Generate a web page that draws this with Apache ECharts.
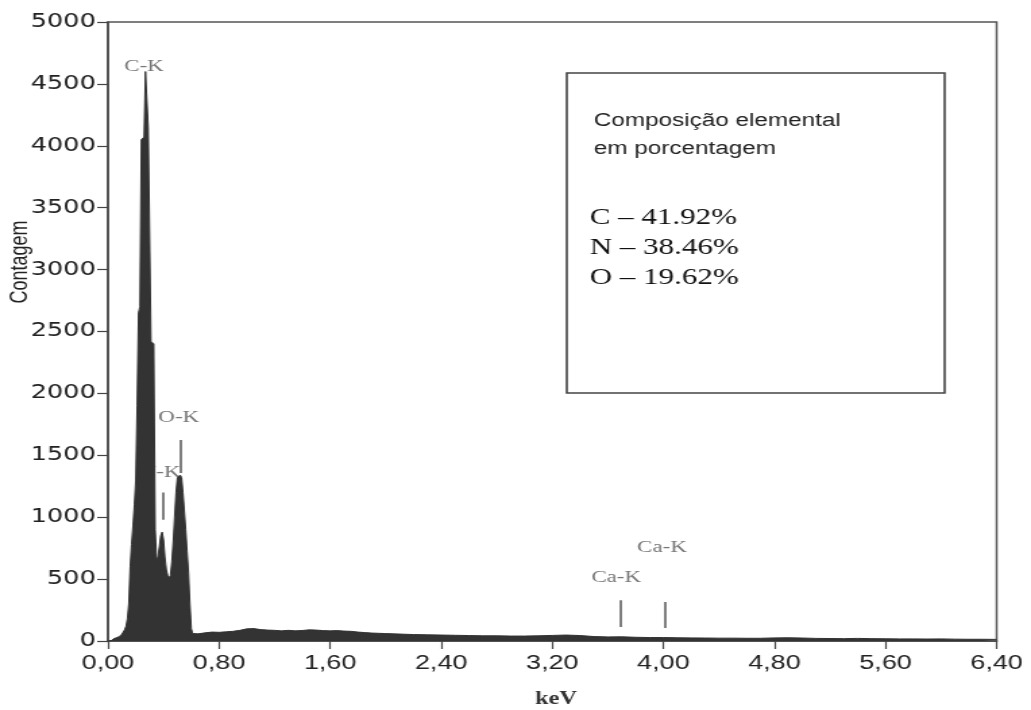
<!DOCTYPE html>
<html>
<head>
<meta charset="utf-8">
<script src="https://cdn.jsdelivr.net/npm/echarts@6/dist/echarts.min.js"></script>
<style>
  html, body { margin: 0; padding: 0; background: #fff; overflow: hidden; }
  /* the original scan is stretched sideways, so the chart is drawn narrow and widened */
  #chart { width: 764px; height: 710px; transform: scaleX(1.3495); transform-origin: 0 0; }
</style>
</head>
<body>
<div id="chart"></div>
<script>
// energy (keV) and counts
const energy = [
  0.00, 0.01, 0.02, 0.03, 0.04, 0.05, 0.06, 0.07, 0.08, 0.09,
  0.10, 0.11, 0.12, 0.13, 0.14, 0.15, 0.16, 0.17, 0.18, 0.19,
  0.20, 0.21, 0.22, 0.23, 0.24, 0.25, 0.26, 0.27, 0.28, 0.29,
  0.30, 0.31, 0.32, 0.33, 0.34, 0.35, 0.36, 0.37, 0.38, 0.39,
  0.40, 0.41, 0.42, 0.43, 0.44, 0.45, 0.46, 0.47, 0.48, 0.49,
  0.50, 0.51, 0.52, 0.53, 0.54, 0.55, 0.56, 0.57, 0.58, 0.59,
  0.60, 0.61, 0.62, 0.65, 0.70, 0.75, 0.80, 0.85, 0.90, 0.95,
  1.00, 1.05, 1.10, 1.15, 1.20, 1.25, 1.30, 1.35, 1.40, 1.45,
  1.50, 1.55, 1.60, 1.65, 1.70, 1.75, 1.80, 1.85, 1.90, 1.95,
  2.00, 2.10, 2.20, 2.30, 2.40, 2.50, 2.60, 2.70, 2.80, 2.90,
  3.00, 3.10, 3.20, 3.30, 3.40, 3.50, 3.60, 3.70, 3.80, 3.90,
  4.00, 4.10, 4.20, 4.30, 4.40, 4.50, 4.60, 4.70, 4.80, 4.90,
  5.00, 5.10, 5.20, 5.30, 5.40, 5.50, 5.60, 5.70, 5.80, 5.90,
  6.00, 6.10, 6.20, 6.30, 6.40
]
const counts = [
  0, 0, 0, 5, 18, 22, 26, 30, 35, 42,
  55, 70, 90, 120, 180, 300, 600, 780, 930, 1100,
  1300, 1900, 2650, 2700, 4050, 4050, 4070, 4600, 4600, 4150,
  4150, 2420, 2420, 2400, 900, 650, 680, 760, 850, 880,
  820, 680, 580, 530, 510, 530, 640, 800, 1000, 1200,
  1320, 1330, 1340, 1320, 1200, 1050, 900, 720, 550, 300,
  100, 60, 55, 58, 66, 72, 70, 74, 78, 86,
  98, 100, 92, 88, 86, 82, 86, 82, 85, 90,
  88, 84, 82, 84, 80, 78, 72, 68, 64, 62,
  60, 56, 52, 50, 48, 46, 44, 42, 42, 40,
  40, 42, 45, 48, 44, 36, 33, 34, 30, 28,
  28, 26, 25, 24, 23, 23, 22, 22, 25, 26,
  24, 21, 20, 19, 21, 19, 18, 17, 17, 16,
  17, 15, 14, 14, 13
]

const xTickLabels = ['0,00', '0,80', '1,60', '2,40', '3,20', '4,00', '4,80', '5,60', '6,40']

// peak labels (name, keV, count where the label sits)
const peakNames = ['C-K', 'N-K', 'O-K', 'Ca-K', 'Ca-K']
const peakLabelKeV = [0.26, 0.375, 0.51, 3.66, 3.99]
const peakLabelCount = [4640, 1357, 1809, 509, 751]

// short vertical peak markers
const markerKeV = [0.396, 0.526, 3.69, 4.01]
const markerFrom = [980, 1357, 113, 105]
const markerTo = [1200, 1624, 330, 315]

// composition box
const boxTitle = ['Composição elemental', 'em porcentagem']
const composition = ['C – 41.92%', 'N – 38.46%', 'O – 19.62%']

const spectrum = energy.map((e, i) => [e, counts[i]])
const labelData = peakNames.map((n, i) => ({ name: n, value: [peakLabelKeV[i], peakLabelCount[i]] }))
const markerData = markerKeV.map((e, i) => [{ coord: [e, markerFrom[i]] }, { coord: [e, markerTo[i]] }])

const chart = echarts.init(document.getElementById('chart'))

const graphics = [
  {
    type: 'rect',
    shape: { x: 420, y: 73, width: 280, height: 320 },
    style: { fill: 'none', stroke: '#444', lineWidth: 1.6 }
  },
  {
    type: 'text', x: 15, y: 262, rotation: Math.PI / 2,
    style: { text: 'Contagem', font: '18px "Liberation Sans", Arial, sans-serif', fill: '#222', align: 'center', verticalAlign: 'middle' }
  },
  {
    type: 'text', x: 412, y: 699,
    style: { text: 'keV', font: 'bold 18px "Liberation Serif", serif', fill: '#333', align: 'center', verticalAlign: 'middle' }
  }
]
boxTitle.forEach((t, i) => {
  graphics.push({
    type: 'text', x: 440, y: 121 + i * 28,
    style: { text: t, font: '18px "Liberation Sans", Arial, sans-serif', fill: '#222', verticalAlign: 'middle' }
  })
})
composition.forEach((t, i) => {
  graphics.push({
    type: 'text', x: 437, y: 218 + i * 30,
    style: { text: t, font: '23px "Liberation Serif", serif', fill: '#111', verticalAlign: 'middle' }
  })
})

chart.setOption({
  animation: false,
  backgroundColor: '#fff',
  grid: {
    left: 80, right: 25.5, top: 22, bottom: 69,
    show: true, borderColor: '#555', borderWidth: 1.5
  },
  xAxis: {
    type: 'value',
    min: 0, max: 6.4, interval: 0.8,
    axisLine: { show: true, lineStyle: { color: '#444', width: 1.5 } },
    axisTick: { show: true, length: 8, lineStyle: { color: '#444', width: 1.2 } },
    splitLine: { show: false },
    axisLabel: {
      margin: 12,
      color: '#222',
      fontSize: 20,
      fontFamily: '"Liberation Sans", Arial, sans-serif',
      formatter: v => xTickLabels[Math.round(v / 0.8)]
    }
  },
  yAxis: {
    type: 'value',
    min: 0, max: 5000, interval: 500,
    axisLine: { show: true, lineStyle: { color: '#444', width: 1.5 } },
    axisTick: { show: true, length: 8, lineStyle: { color: '#444', width: 1.2 } },
    splitLine: { show: false },
    axisLabel: {
      margin: 9,
      color: '#222',
      fontSize: 19,
      fontFamily: '"DejaVu Sans", Verdana, sans-serif',
      formatter: v => String(v)
    }
  },
  graphic: graphics,
  series: [
    {
      type: 'scatter',
      z: 1,
      symbol: 'circle',
      symbolSize: 1,
      itemStyle: { color: 'transparent' },
      label: {
        show: true,
        position: 'inside',
        formatter: '{b}',
        color: '#555',
        fontSize: 17,
        fontFamily: '"Liberation Serif", serif'
      },
      data: labelData
    },
    {
      type: 'line',
      z: 2,
      data: spectrum,
      symbol: 'none',
      lineStyle: { color: '#333', width: 1 },
      areaStyle: { color: '#333', opacity: 1 },
      markLine: {
        silent: true,
        symbol: 'none',
        label: { show: false },
        lineStyle: { color: '#555', width: 1.5, type: 'solid' },
        data: markerData
      }
    }
  ]
})
</script>
</body>
</html>
